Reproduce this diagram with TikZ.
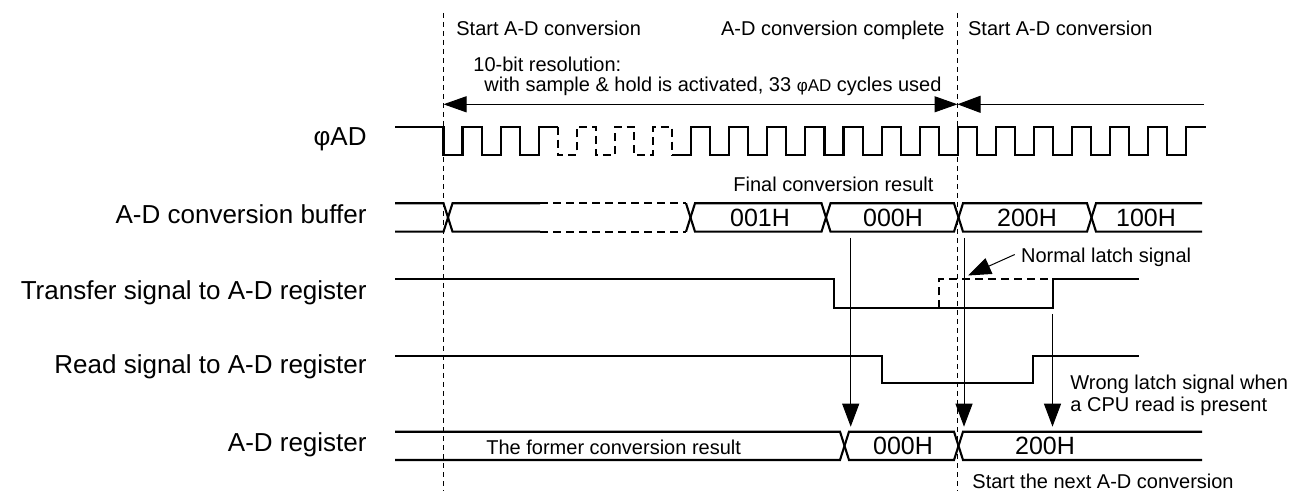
\documentclass[tikz,border=0pt]{standalone}
\usepackage{fontspec}
\setmainfont{Liberation Sans}
\usetikzlibrary{arrows.meta}
\tikzset{
	sig/.style={line width=1.05pt},
	dsig/.style={line width=1.05pt, dash pattern=on 4pt off 2.5pt},
	tline/.style={line width=0.4pt, dash pattern=on 2.5pt off 2pt},
	arr/.style={line width=0.5pt, -{Triangle[length=11.5pt,width=8.5pt]}},
	darr/.style={line width=0.5pt, {Triangle[length=11.5pt,width=8pt]}-{Triangle[length=11.5pt,width=8pt]}},
	lbl/.style={anchor=base east, inner sep=0, font=\fontsize{13}{15}\selectfont},
	val/.style={anchor=base, inner sep=0, font=\fontsize{12.5}{15}\selectfont},
	note/.style={anchor=base west, inner sep=0, font=\fontsize{10}{12}\selectfont}
}
\begin{document}
\begin{tikzpicture}[x=0.5pt, y=-0.5pt]
	\useasboundingbox (0,0) rectangle (1289,491);
	% signal names
	\node[lbl] (lclk) at (367,146) {φAD};
	\node[lbl] (lbuf) at (367,223.3) {A-D conversion buffer};
	\node[lbl] (ltrf) at (367,300) {Transfer signal to A-D register};
	\node[lbl] (lrd) at (367,373.3) {Read signal to A-D register};
	\node[lbl] (lreg) at (367,451.7) {A-D register};
	% time lines
	\draw[tline] (443.5,13) -- (443.5,491);
	\draw[tline] (957.5,13) -- (957.5,491);
	% notes on top
	\node[note] (nst1) at (456,36) {Start A-D conversion};
	\node[note] (ncpl) at (720.7,36) {A-D conversion complete};
	\node[note] (nst2) at (967.7,36) {Start A-D conversion};
	\node[note] (nres) at (473,72) {10-bit resolution:};
	\node[note] (ncyc) at (484,92) {with sample \& hold is activated, 33 {\fontsize{8.5}{10}\selectfont φAD} cycles used};
	\coordinate (t0) at (443.5,104.3);
	\coordinate (t1) at (957.5,104.3);
	\coordinate (t2) at (1204,104.3);
	\draw[darr] (t0) -- (t1);
	\draw[arr] (t2) -- (t1);
	% clock
	\draw[sig] (395,126.7) -| (443.45,155) -| (462.5,126.7) -| (481.55,155) -| (500.6,126.7)
		-| (519.65,155) -| (538.7,126.7) -- (557.75,126.7);
	\draw[dsig] (557.75,126.7) -- (557.75,155) -| (576.8,126.7) -| (595.85,155) -| (614.9,126.7)
		-| (633.95,155) -| (653,126.7) -| (672.05,155);
	\draw[sig] (672.05,155) -| (691.1,126.7)
		\foreach \k in {7,...,19} { -| ({443.45+38.1*\k},155) -| ({462.5+38.1*\k},126.7) }
		-- (1205.7,126.7);
	% conversion buffer
	\draw[sig] (395,203.3) -- (443.5,203.3) -- (452.5,231.7) -- (540,231.7);
	\draw[sig] (395,231.7) -- (443.5,231.7) -- (452.5,203.3) -- (540,203.3);
	\draw[dsig] (540,203.3) -- (686,203.3);
	\draw[dsig] (540,231.7) -- (686,231.7);
	\draw[sig] (686,203.3) -- (695,231.7) -- (821.5,231.7) -- (830.5,203.3) -- (954,203.3)
		-- (963,231.7) -- (1087,231.7) -- (1096,203.3) -- (1202,203.3);
	\draw[sig] (686,231.7) -- (695,203.3) -- (821.5,203.3) -- (830.5,231.7) -- (954,231.7)
		-- (963,203.3) -- (1087,203.3) -- (1096,231.7) -- (1202,231.7);
	\node[val] (b1) at (760,226.5) {001H};
	\node[val] (b2) at (893,226.5) {000H};
	\node[val] (b3) at (1027,226.5) {200H};
	\node[val] (b4) at (1146,226.5) {100H};
	\node[note] (nfin) at (733,192) {Final conversion result};
	% transfer signal
	\draw[sig] (395,279.3) -| (834.3,308.3) -| (1053.3,279.3) -- (1139,279.3);
	\draw[dsig] (939,308.3) |- (1053.3,279.3);
	\node[note] (nnl) at (1020.7,262.7) {Normal latch signal};
	\coordinate (nltip) at (968,275.5);
	\draw[arr] ([shift={(-3pt,1.5pt)}]nnl.west) -- (nltip);
	% read signal
	\draw[sig] (395,356) -| (881.7,383.3) -| (1033.3,356) -- (1139,356);
	\node[note] (nwl1) at (1070,389) {Wrong latch signal when};
	\node[note] (nwl2) at (1070,411.7) {a CPU read is present};
	% a-d register
	\draw[sig] (395,431.7) -- (840,431.7) -- (849,460) -- (954,460) -- (963,431.7) -- (1202,431.7);
	\draw[sig] (395,460) -- (840,460) -- (849,431.7) -- (954,431.7) -- (963,460) -- (1202,460);
	\node[note] (nfor) at (486,454) {The former conversion result};
	\node[val] (r1) at (903,454.8) {000H};
	\node[val] (r2) at (1045,454.8) {200H};
	\node[note] (nnx) at (972,488) {Start the next A-D conversion};
	% latch arrows
	\coordinate (a1s) at (850.7,238);
	\coordinate (a1e) at (850.7,426.7);
	\coordinate (a2s) at (964,238);
	\coordinate (a2e) at (964,426.7);
	\coordinate (a3s) at (1052.5,314);
	\coordinate (a3e) at (1052.5,426.7);
	\draw[arr] (a1s) -- (a1e);
	\draw[arr] (a2s) -- (a2e);
	\draw[arr] (a3s) -- (a3e);
\end{tikzpicture}
\end{document}
